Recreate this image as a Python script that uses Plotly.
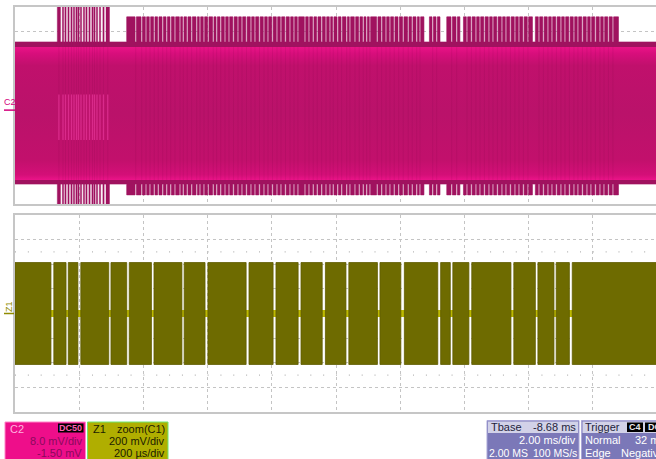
import plotly.graph_objects as go

W, H = 656, 459

# ---------------- data (time in ms from the left edge of the screen) ----------------
MS_PER_DIV = 2.0
TBASE_DELAY_MS = -8.68
C2_OFFSET_MV = -1.50
C2_MV_PER_DIV = 8.0
ZOOM_MARK_MS = 1.09

# C2 : comb of pulses (high plateau interrupted by short drop-outs)
c2_comb_start = 3.48
c2_comb_end = 18.80
c2_notch_ms = [3.760, 3.947, 4.081, 4.205, 4.339, 4.464, 4.601, 4.726, 4.850, 4.984,
               5.140, 5.243, 5.367, 5.504, 5.660, 5.763, 5.887, 6.021, 6.177, 6.283,
               6.408, 6.542, 6.666, 6.806, 6.946, 7.071, 7.211, 7.351, 7.476, 7.616,
               7.756, 7.881, 8.021, 8.161, 8.286, 8.426, 8.566, 8.691, 8.815, 9.034,
               9.158, 9.292, 9.417, 9.554, 9.688, 9.812, 9.915, 10.052, 10.177, 10.332,
               10.435, 10.591, 10.725, 10.850, 10.955, 11.058, 11.286, 11.423, 11.557, 11.681,
               11.815, 11.952, 12.096, 12.251, 12.376, 12.513, 12.616, 13.011, 13.136, 13.603,
               13.759, 14.080, 14.220, 14.360, 14.485, 14.625, 14.765, 14.890, 15.030, 15.170,
               15.295, 15.435, 15.575, 15.700, 15.840, 15.980, 16.323, 16.463, 16.603, 16.728,
               16.868, 17.008, 17.133, 17.273, 17.413, 17.537, 17.678, 17.818, 17.942, 18.083,
               18.223, 18.348, 18.488, 18.628]
c2_notch_width_ms = 0.04
c2_gap_start = [12.74, 13.24, 13.86, 16.12]
c2_gap_end = [12.91, 13.45, 13.97, 16.21]

# C2 : early full-scale burst
c2_line_start = [1.318, 1.475, 1.553, 1.647, 1.740, 1.818, 1.896, 1.958, 2.036,
                 2.129, 2.207, 2.301, 2.394, 2.456, 2.534, 2.628, 2.737, 2.835]
c2_line_end = [1.417, 1.515, 1.593, 1.687, 1.780, 1.858, 1.936, 1.998, 2.076,
               2.169, 2.247, 2.341, 2.434, 2.496, 2.574, 2.668, 2.777, 2.944]

# C2 envelope levels (divisions)
c2_base_hi, c2_base_lo = 2.58, -3.19
c2_peak_hi, c2_peak_lo = 3.60, -3.63
c2_core_hi, c2_core_lo = 2.38, -3.03

# Z1 : bursts of carrier
z1_burst_start = [0.00, 1.21, 1.66, 2.05, 2.99, 3.56, 4.33, 5.27, 6.01, 7.29, 8.13, 8.91,
                  9.67, 10.40, 11.37, 12.13, 13.26, 13.64, 14.23, 15.54, 16.29, 16.86, 17.36]
z1_burst_end = [1.12, 1.59, 1.96, 2.92, 3.48, 4.25, 5.20, 5.92, 7.20, 8.04, 8.82, 9.57,
                10.31, 11.29, 12.02, 13.17, 13.56, 14.14, 15.45, 16.21, 16.79, 17.27, 20.00]
z1_amp = 2.07

# ---------------- geometry helpers ----------------
X_RANGE = [0, 10 * MS_PER_DIV * (W - 15) / 642.0]
XL, XR = -0.5, 21.0
FONT = "Liberation Sans, Arial, sans-serif"
MAG = "#d4007c"
MAG_DARK = "#a0125f"
OLIVE = "#6e6b00"


def px(x):
    return x / W


def py(y):
    return 1 - y / H


# ---------------- C2 envelope polygon ----------------
dips = sorted([(n - c2_notch_width_ms / 2, n + c2_notch_width_ms / 2) for n in c2_notch_ms]
              + list(zip(c2_gap_start, c2_gap_end)))


def edge(base, peak):
    xs = [XL, c2_comb_start, c2_comb_start]
    ys = [base, base, peak]
    for s, e in dips:
        xs += [s, s, e, e]
        ys += [peak, base, base, peak]
    xs += [c2_comb_end, c2_comb_end, XR]
    ys += [peak, base, base]
    return xs, ys


tx, ty = edge(c2_base_hi, c2_peak_hi)
bx_, by_ = edge(c2_base_lo, c2_peak_lo)
env_x = tx + bx_[::-1] + [tx[0]]
env_y = ty + by_[::-1] + [ty[0]]

lx, ly = [], []
for s, e in zip(c2_line_start, c2_line_end):
    lx += [s, e, e, s, s, None]
    ly += [-4.5, -4.5, 4.5, 4.5, -4.5, None]

# texture streaks inside the band
sx, sy = [], []
for n in c2_notch_ms:
    sx += [n, n, None]
    sy += [c2_core_hi, c2_core_lo, None]
for s, e in zip(c2_line_start, c2_line_end):
    m = (s + e) / 2
    sx += [m, m, None]
    sy += [c2_core_hi, c2_core_lo, None]

hx, hy = [], []
for s, e in zip(c2_line_start, c2_line_end):
    m = (s + e) / 2
    hx += [m, m, None]
    hy += [0.45, -1.4, None]

# ---------------- Z1 bursts ----------------
zx, zy = [], []
for s, e in zip(z1_burst_start, z1_burst_end):
    zx += [s, e, e, s, s, None]
    zy += [-z1_amp, -z1_amp, z1_amp, z1_amp, -z1_amp, None]

fig = go.Figure()

# top panel
fig.add_trace(go.Scatter(x=env_x, y=env_y, mode="lines", fill="toself",
                         fillcolor=MAG_DARK, line=dict(color=MAG_DARK, width=0.6),
                         xaxis="x", yaxis="y", hoverinfo="skip"))
fig.add_trace(go.Scatter(x=lx, y=ly, mode="lines", fill="toself",
                         fillcolor=MAG_DARK, line=dict(color=MAG_DARK, width=0.4),
                         xaxis="x", yaxis="y", hoverinfo="skip"))
fig.add_trace(go.Scatter(x=[XL, XR, XR, XL, XL],
                         y=[c2_core_lo, c2_core_lo, c2_core_hi, c2_core_hi, c2_core_lo],
                         mode="lines", fill="toself", line=dict(width=0),
                         fillgradient=dict(type="vertical", start=c2_core_lo, stop=c2_core_hi,
                                           colorscale=[[0.0, "#ec1489"], [0.04, "#d40f78"],
                                                       [0.15, "#c2106c"], [0.5, "#ba126a"],
                                                       [0.86, "#c0106c"], [0.95, "#d80e7c"],
                                                       [1.0, "#ea1487"]]),
                         xaxis="x", yaxis="y", hoverinfo="skip"))
fig.add_trace(go.Scatter(x=sx, y=sy, mode="lines",
                         line=dict(color="rgba(110,0,60,0.11)", width=1),
                         xaxis="x", yaxis="y", hoverinfo="skip"))
fig.add_trace(go.Scatter(x=hx, y=hy, mode="lines",
                         line=dict(color="rgba(255,70,175,0.5)", width=1.3),
                         xaxis="x", yaxis="y", hoverinfo="skip"))
fig.add_trace(go.Scatter(x=[10 + TBASE_DELAY_MS], y=[-4.18], mode="markers",
                         marker=dict(symbol="triangle-up", size=7, color="#e0107f"),
                         cliponaxis=False, xaxis="x", yaxis="y", hoverinfo="skip"))

# bottom panel
fig.add_trace(go.Scatter(x=[XL, XR], y=[0, 0], mode="lines",
                         line=dict(color="#bdb900", width=7),
                         xaxis="x2", yaxis="y2", hoverinfo="skip"))
fig.add_trace(go.Scatter(x=zx, y=zy, mode="lines", fill="toself",
                         fillcolor=OLIVE, line=dict(color="#5f5c00", width=0.8),
                         xaxis="x2", yaxis="y2", hoverinfo="skip"))
fig.add_trace(go.Scatter(x=[ZOOM_MARK_MS], y=[-4.12], mode="markers",
                         marker=dict(symbol="triangle-up", size=7, color="#9c9800"),
                         cliponaxis=False, xaxis="x2", yaxis="y2", hoverinfo="skip"))

axis_common = dict(range=X_RANGE, dtick=MS_PER_DIV, tick0=0, showticklabels=False,
                   ticks="", showgrid=True, gridcolor="#c4c4c4", griddash="dot",
                   gridwidth=1, zeroline=False, showline=True, mirror=True,
                   linecolor="#c6c6c6", linewidth=2, domain=[15 / W, 1])
yaxis_common = dict(range=[-4, 4], dtick=1, tick0=0, showticklabels=False, ticks="",
                    showgrid=True, gridcolor="#c4c4c4", griddash="dot", gridwidth=1,
                    zeroline=False, showline=True, mirror=False,
                    linecolor="#c6c6c6", linewidth=2)

shapes = []
for yy in (2.5, -2.5):
    shapes.append(dict(type="line", xref="x2", yref="y2", x0=0, x1=20, y0=yy, y1=yy,
                       line=dict(color="#b4b4b4", width=1.3, dash="1px,11.84px"),
                       layer="below"))
# channel markers
shapes.append(dict(type="line", xref="paper", yref="y", x0=px(4), x1=px(15),
                   y0=C2_OFFSET_MV / C2_MV_PER_DIV, y1=C2_OFFSET_MV / C2_MV_PER_DIV,
                   line=dict(color=MAG, width=1.5)))
shapes.append(dict(type="line", xref="paper", yref="y2", x0=px(4), x1=px(14),
                   y0=0, y1=0, line=dict(color="#8f8b00", width=1.5)))


def rect(x0, y0, x1, y1, fill, line=None, lw=1):
    return dict(type="rect", xref="paper", yref="paper", x0=px(x0), x1=px(x1),
                y0=py(y1), y1=py(y0), fillcolor=fill,
                line=dict(color=line or fill, width=lw if line else 0), layer="above")


shapes += [
    rect(5, 422, 85.5, 462, "#ee0e8a", "#ff86c8"),
    rect(58, 423.5, 83.5, 432.5, "#000000"),
    rect(87.5, 422, 168, 462, "#b0ae00", "#6ee66e"),
    rect(487, 420.5, 579, 462, "#7b78b8", "#aaa7d8"),
    rect(488, 421.5, 578, 433, "#d2d2e8"),
    rect(581.5, 420.5, 662, 462, "#7b78b8", "#aaa7d8"),
    rect(582.5, 421.5, 662, 433, "#d2d2e8"),
    rect(627, 422.5, 643, 432, "#000000"),
    rect(645, 422.5, 662, 432, "#000000"),
]


def txt(x, y, s, color, anchor="left", size=11, **kw):
    return dict(x=px(x), y=py(y), xref="paper", yref="paper", text=s, showarrow=False,
                xanchor=anchor, yanchor="middle",
                font=dict(family=FONT, size=size, color=color), **kw)


annotations = [
    txt(10, 102.5, "C2", MAG, anchor="center", size=9),
    txt(9, 307, "Z1", "#8f8b00", anchor="center", size=9, textangle=-90),
    # C2 descriptor
    txt(8, 428.5, "C2", "#ffb3df"),
    txt(70.7, 428, "<b>DC50</b>", "#ff5fb4", anchor="center", size=9),
    txt(84, 441, "8.0 mV/div", "#8a0a5c", anchor="right"),
    txt(84, 453, "-1.50 mV", "#8a0a5c", anchor="right"),
    # Z1 descriptor
    txt(91, 428.5, "Z1", "#1c1c00"),
    txt(167, 428.5, "zoom(C1)", "#1c1c00", anchor="right"),
    txt(167, 441, "200 mV/div", "#1c1c00", anchor="right"),
    txt(167, 453, "200 µs/div", "#1c1c00", anchor="right"),
    # timebase
    txt(489, 427, "Tbase", "#1e1e3c"),
    txt(578, 427, "-8.68 ms", "#1e1e3c", anchor="right"),
    txt(578, 440, "2.00 ms/div", "#ffffff", anchor="right"),
    txt(487, 452.5, "2.00 MS", "#ffffff", size=10.5),
    txt(578.5, 452.5, "100 MS/s", "#ffffff", anchor="right", size=10.5),
    # trigger
    txt(583, 427, "Trigger", "#1e1e3c"),
    txt(635, 427, "<b>C4</b>", "#e8e8e8", anchor="center", size=9),
    txt(646, 427, "<b>DC</b>", "#e8e8e8", size=9),
    txt(583, 440, "Normal", "#ffffff"),
    txt(633, 440, "32 mV", "#ffffff"),
    txt(583, 452.5, "Edge", "#ffffff"),
    txt(619, 452.5, "Negative", "#ffffff"),
]

fig.update_layout(
    width=W, height=H, margin=dict(l=0, r=0, t=0, b=0),
    paper_bgcolor="white", plot_bgcolor="white", showlegend=False,
    xaxis=dict(axis_common, anchor="y"),
    yaxis=dict(yaxis_common, domain=[1 - 204 / H, 1 - 7 / H], anchor="x"),
    xaxis2=dict(axis_common, anchor="y2"),
    yaxis2=dict(yaxis_common, domain=[1 - 412 / H, 1 - 215 / H], anchor="x2"),
    shapes=shapes, annotations=annotations,
)

fig.write_html("out.html", config={"displayModeBar": False},
               post_script="document.body.style.margin='0px';"
                           "document.body.style.overflow='hidden';")
